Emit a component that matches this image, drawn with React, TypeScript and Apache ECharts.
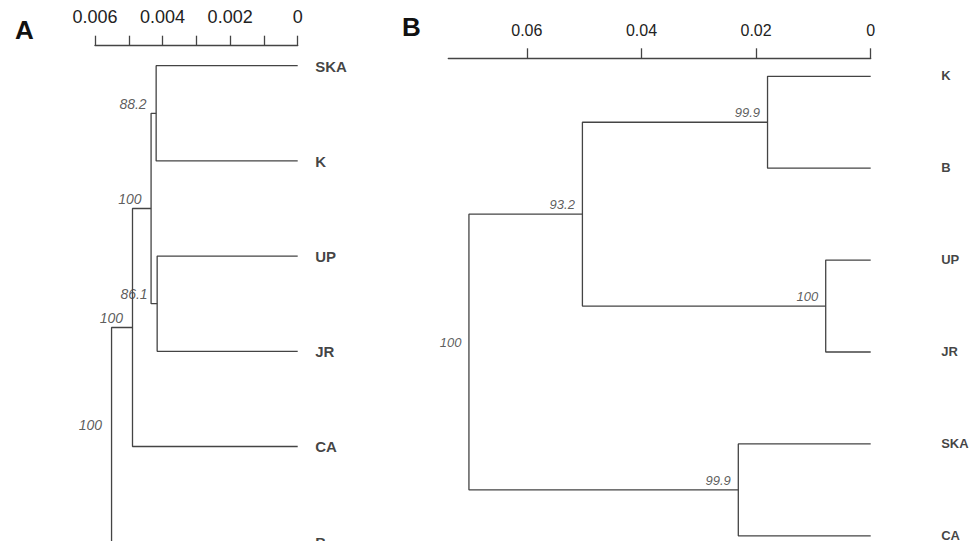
import React, { useEffect, useRef } from "react";
import * as echarts from "echarts";

// ---------- Panel A ----------
const leavesA = ["SKA", "K", "UP", "JR", "CA", "B"];
const nodeIdsA = ["a1", "a2", "a3", "a4", "a5"];
const leftA = ["SKA", "UP", "a1", "a3", "a4"];
const rightA = ["K", "JR", "a2", "CA", "B"];
const heightsA = [0.00419, 0.00416, 0.00434, 0.00489, 0.00551];
const supportA = ["88.2", "86.1", "100", "100", "100"];
const ticksA = [0, 0.001, 0.002, 0.003, 0.004, 0.005, 0.006];
const tickLabelsA = [0, 0.002, 0.004, 0.006];

// ---------- Panel B ----------
const leavesB = ["K", "B", "UP", "JR", "SKA", "CA"];
const nodeIdsB = ["b1", "b2", "b3", "b4", "b5"];
const leftB = ["K", "UP", "b1", "SKA", "b3"];
const rightB = ["B", "JR", "b2", "CA", "b4"];
const heightsB = [0.018, 0.00785, 0.0503, 0.0231, 0.0701];
const supportB = ["99.9", "100", "93.2", "99.9", "100"];
const ticksB = [0, 0.02, 0.04, 0.06];
const tickLabelsB = [0, 0.02, 0.04, 0.06];

const FONT = "'Liberation Sans', Arial, Helvetica, sans-serif";
const LINE = "#444";

function buildTree(leaves: string[], ids: string[], left: string[], right: string[], heights: number[]) {
  const pos: Record<string, { x: number; y: number }> = {};
  leaves.forEach((n, i) => (pos[n] = { x: 0, y: i }));
  const segs: number[][][] = [];
  ids.forEach((id, k) => {
    const a = pos[left[k]];
    const b = pos[right[k]];
    const h = heights[k];
    segs.push([[a.x, a.y], [h, a.y], [h, b.y], [b.x, b.y]]);
    pos[id] = { x: h, y: (a.y + b.y) / 2 };
  });
  return { segs, pos };
}

function fmt(v: number, digits: number) {
  if (Math.abs(v) < 1e-12) return "0";
  return v.toFixed(digits);
}

export default function App() {
  const ref = useRef<HTMLDivElement>(null);
  useEffect(() => {
    if (!ref.current) return;
    const chart = echarts.init(ref.current, null, { renderer: "svg" });
    const tA = buildTree(leavesA, nodeIdsA, leftA, rightA, heightsA);
    const tB = buildTree(leavesB, nodeIdsB, leftB, rightB, heightsB);

    const series: any[] = [];
    const addTree = (t: any, axisIdx: number, leaves: string[], ids: string[], support: string[], cfg: any) => {
      t.segs.forEach((s: number[][]) => {
        series.push({
          type: "line",
          xAxisIndex: axisIdx,
          yAxisIndex: axisIdx,
          data: s,
          symbol: "none",
          silent: true,
          lineStyle: { color: LINE, width: 1.3 },
        });
      });
      series.push({
        type: "scatter",
        xAxisIndex: axisIdx,
        yAxisIndex: axisIdx,
        symbolSize: 1,
        clip: false,
        silent: true,
        itemStyle: { color: "rgba(0,0,0,0)" },
        data: ids.map((id, k) => [t.pos[id].x, t.pos[id].y, support[k]]),
        label: {
          show: true,
          formatter: (p: any) => p.value[2],
          position: cfg.supOffset,
          align: "right",
          verticalAlign: "middle",
          fontFamily: FONT,
          fontStyle: "italic",
          fontSize: cfg.supSize,
          color: "#333",
        },
      });
      series.push({
        type: "scatter",
        xAxisIndex: axisIdx,
        yAxisIndex: axisIdx,
        symbolSize: 1,
        clip: false,
        silent: true,
        itemStyle: { color: "rgba(0,0,0,0)" },
        data: leaves.map((n, i) => [0, i, n]),
        label: {
          show: true,
          formatter: (p: any) => p.value[2],
          position: cfg.leafOffset,
          align: "left",
          verticalAlign: "middle",
          fontFamily: FONT,
          fontWeight: "bold",
          fontSize: cfg.leafSize,
          color: "#111",
        },
      });
    };
    addTree(tA, 0, leavesA, nodeIdsA, supportA, { supOffset: [-9, -9], supSize: 14, leafOffset: [18, 1], leafSize: 15 });
    addTree(tB, 1, leavesB, nodeIdsB, supportB, { supOffset: [-7, -9], supSize: 13, leafOffset: [71, 0], leafSize: 13 });

    const xAxisCommon = (min: number, max: number, ticks: number[], labels: number[], digits: number, fs: number) => ({
      type: "value",
      position: "top",
      inverse: true,
      min,
      max,
      splitLine: { show: false },
      axisLine: { show: true, onZero: false, lineStyle: { color: LINE, width: 1.3 } },
      axisTick: { show: true, length: 10, customValues: ticks, lineStyle: { color: LINE, width: 1.3 } },
      axisLabel: {
        show: true,
        customValues: labels,
        margin: 20,
        fontFamily: FONT,
        fontSize: fs,
        color: "#222",
        formatter: (v: number) => fmt(v, digits),
      },
    });

    chart.setOption({
      animation: false,
      backgroundColor: "#fff",
      grid: [
        { left: 95, width: 202.7, top: 45.7, height: 95.2 * 5.71, outerBoundsMode: "none", containLabel: false },
        { left: 448.3, width: 422.4, top: 58.3, height: 91.9 * 5.5, outerBoundsMode: "none", containLabel: false },
      ],
      xAxis: [
        { gridIndex: 0, ...xAxisCommon(0, 0.006, ticksA, tickLabelsA, 3, 18) },
        { gridIndex: 1, ...xAxisCommon(0, 0.0737, ticksB, tickLabelsB, 2, 16) },
      ],
      yAxis: [
        { gridIndex: 0, type: "value", inverse: true, show: false, min: -0.21, max: 5.5, splitLine: { show: false } },
        { gridIndex: 1, type: "value", inverse: true, show: false, min: -0.196, max: 5.304, splitLine: { show: false } },
      ],
      graphic: [
        {
          type: "text",
          x: 15,
          y: 30,
          style: { text: "A", fontFamily: FONT, fontWeight: "bold", fontSize: 26, fill: "#111", align: "left", verticalAlign: "middle" },
        },
        {
          type: "text",
          x: 402,
          y: 27,
          style: { text: "B", fontFamily: FONT, fontWeight: "bold", fontSize: 26, fill: "#111", align: "left", verticalAlign: "middle" },
        },
      ],
      series,
    });
    return () => chart.dispose();
  }, []);
  return <div ref={ref} style={{ position: "absolute", left: 0, top: 0, width: 973, height: 541 }} />;
}
